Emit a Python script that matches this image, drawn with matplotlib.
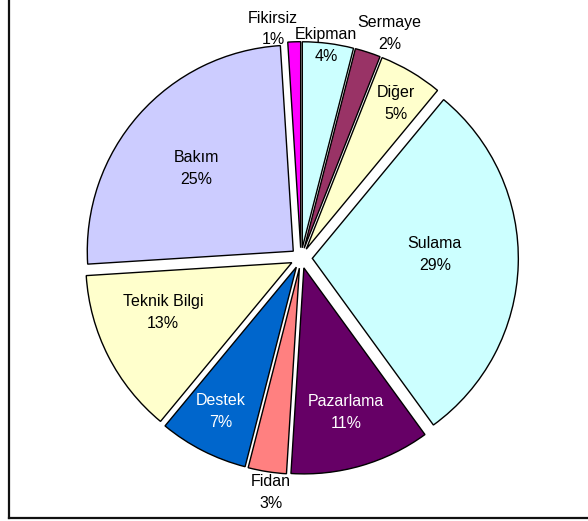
import numpy as np
import matplotlib
matplotlib.use("Agg")
import matplotlib.pyplot as plt
from matplotlib.lines import Line2D

# Share of answers per category (percent)
categories = ["Ekipman", "Sermaye", "Diğer", "Sulama", "Pazarlama",
              "Fidan", "Destek", "Teknik Bilgi", "Bakım", "Fikirsiz"]
shares = [4, 2, 5, 29, 11, 3, 7, 13, 25, 1]

colors = ["#CCFFFF", "#993366", "#FFFFCC", "#CCFFFF", "#660066",
          "#FF8080", "#0066CC", "#FFFFCC", "#CCCCFF", "#FF00FF"]
text_colors = ["black", "black", "black", "black", "white",
               "black", "white", "black", "black", "black"]
explode = [0.05, 0.05, 0.05, 0.055, 0.05, 0.05, 0.05, 0.05, 0.05, 0.05]

# label placement: distance from centre (in radii) and angular nudge (deg)
label_dist = [1.04, 1.17, 0.88, 0.65, 0.78, 1.15, 0.84, 0.72, 0.67, 1.12]
label_nudge = [0.5, -3.5, -1.0, 3.5, 0.2, 1.7, -0.6, -5.5, 0.8, 5.2]

plt.rcParams.update({
    "font.family": ["Liberation Sans", "DejaVu Sans"],
    "font.size": 11.5,
})

W, H, DPI = 588, 521, 100
cx, cy, R = 301, 258, 206   # pie centre and radius in pixels

fig = plt.figure(figsize=(W / DPI, H / DPI), dpi=DPI)
ax = fig.add_axes([0, 0, 1, 1])

wedges, _ = ax.pie(shares, colors=colors, explode=explode, startangle=90,
                   counterclock=False,
                   wedgeprops=dict(edgecolor="black", linewidth=1.0))

for w, name, val, dist, nudge, tc in zip(wedges, categories, shares,
                                         label_dist, label_nudge, text_colors):
    ang = np.deg2rad((w.theta1 + w.theta2) / 2 + nudge)
    ax.text(dist * np.cos(ang), dist * np.sin(ang), f"{name}\n{val}%",
            ha="center", va="center", color=tc, linespacing=1.58)

ax.set_xlim(-cx / R, (W - cx) / R)
ax.set_ylim((cy - H) / R, cy / R)
ax.set_aspect("auto")
ax.axis("off")

# chart frame: left and bottom edges
fig.add_artist(Line2D([8.5 / W, 8.5 / W], [3.5 / H, 1], color="#111111",
                      linewidth=1.6, transform=fig.transFigure))
fig.add_artist(Line2D([8.5 / W, 1], [3.5 / H, 3.5 / H], color="#111111",
                      linewidth=1.6, transform=fig.transFigure))

fig.savefig("out.png", dpi=DPI)
